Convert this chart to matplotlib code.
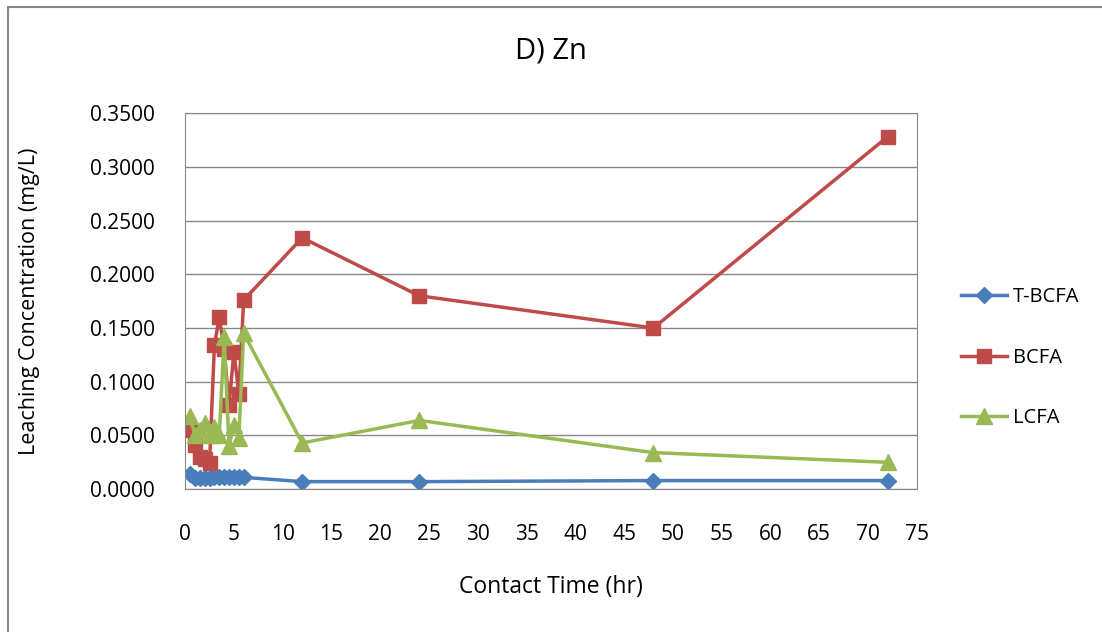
""" Zn leaching concentration vs contact time """
import matplotlib
matplotlib.use("Agg")
import matplotlib.pyplot as plt
from matplotlib.patches import Rectangle

# contact time (hr)
time_hr = [0.5, 1, 1.5, 2, 2.5, 3, 3.5, 4, 4.5, 5, 5.5, 6, 12, 24, 48, 72]

# leaching concentration (mg/L)
t_bcfa = [0.014, 0.010, 0.010, 0.010, 0.010, 0.011, 0.011, 0.011, 0.011, 0.011, 0.011, 0.011,
          0.007, 0.007, 0.008, 0.008]
bcfa = [0.055, 0.041, 0.030, 0.028, 0.024, 0.134, 0.160, 0.130, 0.078, 0.128, 0.089, 0.176,
        0.234, 0.180, 0.150, 0.328]
lcfa = [0.068, 0.050, 0.055, 0.062, 0.050, 0.058, 0.050, 0.142, 0.040, 0.060, 0.048, 0.145,
        0.043, 0.064, 0.034, 0.025]

plt.rcParams['font.family'] = ['Open Sans', 'DejaVu Sans']

fig = plt.figure(figsize=(11.02, 6.32), dpi=100)
ax = fig.add_axes([0.168, 0.226, 0.664, 0.595])

ax.plot(time_hr, t_bcfa, color='#4A7EBB', marker='D', markersize=8, linewidth=2.5, label='T-BCFA')
ax.plot(time_hr, bcfa, color='#BE4B48', marker='s', markersize=10, linewidth=2.5, label='BCFA')
ax.plot(time_hr, lcfa, color='#98B954', marker='^', markersize=11, linewidth=2.5, label='LCFA')

ax.set_xlim(0, 75)
ax.set_ylim(0, 0.35)
ax.set_xticks(range(0, 76, 5))
ax.set_yticks([i * 0.05 for i in range(8)])
ax.set_yticklabels(['%.4f' % (i * 0.05) for i in range(8)])
ax.tick_params(labelsize=15, length=0)
ax.tick_params(axis='x', pad=25)
ax.tick_params(axis='y', pad=22)
ax.yaxis.grid(True, color='#888888', linewidth=1)
ax.set_axisbelow(True)
for s in ax.spines.values():
    s.set_color('#888888')

ax.set_title('D) Zn', fontsize=21, y=1.143, va='center')
ax.set_xlabel('Contact Time (hr)', fontsize=16.5)
ax.xaxis.set_label_coords(0.5, -0.228)
ax.set_ylabel('Leaching Concentration (mg/L)', fontsize=15.5)
ax.yaxis.set_label_coords(-0.198, 0.5)

ax.legend(loc='center left', bbox_to_anchor=(1.035, 0.35), frameon=False, fontsize=14.5,
          labelspacing=2.0, handlelength=2.3, handletextpad=0.3)

# outer chart border
fig.patches.append(Rectangle((0.007, -0.01), 1.1, 0.999, transform=fig.transFigure,
                             fill=False, edgecolor='#888888', linewidth=1.5))

plt.savefig('out.png', dpi=100)
